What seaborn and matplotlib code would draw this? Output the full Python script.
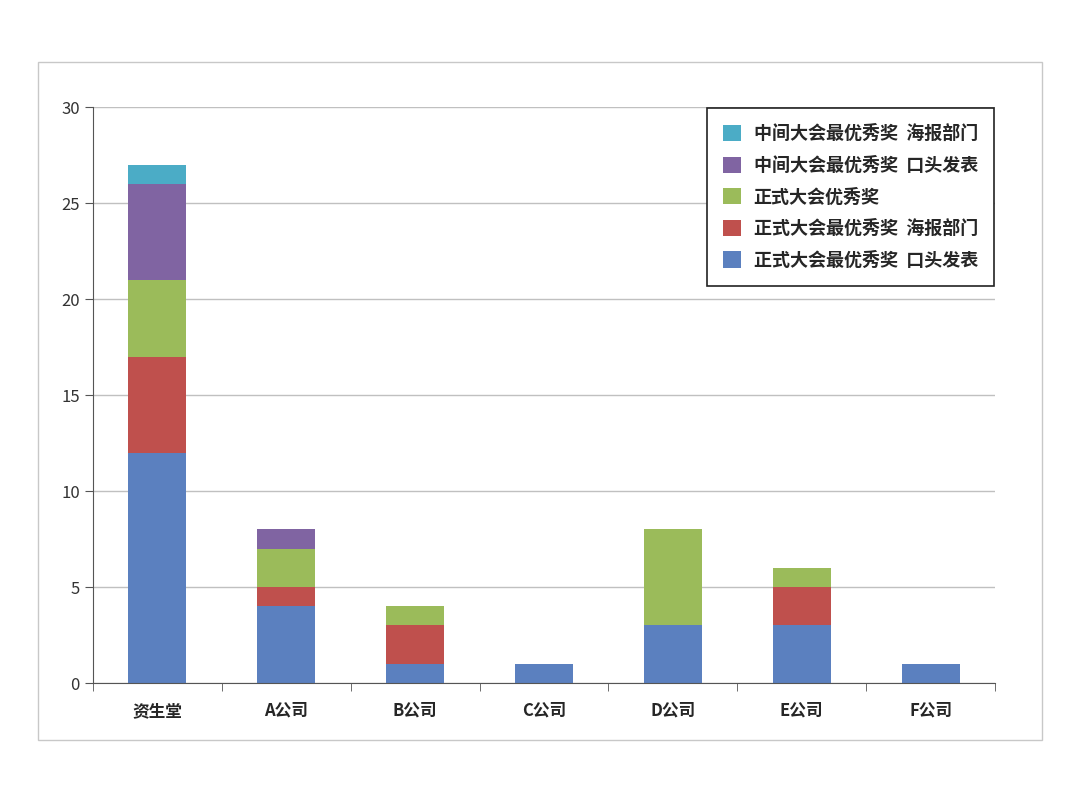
import matplotlib.pyplot as plt
import seaborn as sns
import numpy as np
from matplotlib.patches import Rectangle

companies = ['资生堂', 'A公司', 'B公司', 'C公司', 'D公司', 'E公司', 'F公司']
series_names = ['正式大会最优秀奖 口头发表', '正式大会最优秀奖 海报部门', '正式大会优秀奖',
                '中间大会最优秀奖 口头发表', '中间大会最优秀奖 海报部门']
oral_final = [12, 4, 1, 1, 3, 3, 1]
poster_final = [5, 1, 2, 0, 0, 2, 0]
excellent_final = [4, 2, 1, 0, 5, 1, 0]
oral_mid = [5, 1, 0, 0, 0, 0, 0]
poster_mid = [1, 0, 0, 0, 0, 0, 0]
colors = ['#5b80bf', '#bf504d', '#9bbb5a', '#8064a2', '#4bacc6']

sns.set_style('white')
plt.rcParams['font.family'] = ['Noto Sans CJK SC', 'DejaVu Sans']

fig = plt.figure(figsize=(10.8, 7.91), dpi=100)
fig.patches.append(Rectangle((38 / 1080, 1 - 740 / 791), 1004 / 1080, 678 / 791,
                             transform=fig.transFigure, fill=False, ec='#c8c8c8', lw=1))
ax = fig.add_axes([93 / 1080, 1 - 683 / 791, 902 / 1080, 576 / 791])

bottom = np.zeros(len(companies))
for name, vals, c in zip(series_names, [oral_final, poster_final, excellent_final, oral_mid, poster_mid], colors):
    vals = np.array(vals, dtype=float)
    sns.barplot(x=companies, y=vals, bottom=bottom, color=c, saturation=1, width=0.45, ax=ax,
                edgecolor='none', linewidth=0, label=name)
    bottom += vals

ax.set_ylim(0, 30)
ax.set_xlim(-0.5, 6.5)
ax.set_yticks(range(0, 31, 5))
ax.yaxis.grid(True, color='#c0c0c0', lw=1)
ax.set_axisbelow(True)
for s in ['top', 'right']:
    ax.spines[s].set_visible(False)
for s in ['left', 'bottom']:
    ax.spines[s].set_color('#555555')
ax.tick_params(axis='y', left=True, length=6, color='#555555', labelsize=12, labelcolor='#333333')
ax.set_xticks(range(len(companies)))
ax.set_xticklabels(companies, fontsize=12, fontweight='bold')
ax.tick_params(axis='x', bottom=False, pad=10)
ax.set_xticks(np.arange(-0.5, 7, 1), minor=True)
ax.tick_params(axis='x', which='minor', bottom=True, length=6, color='#555555')

h, l = ax.get_legend_handles_labels()
leg = ax.legend(h[::-1], l[::-1], loc='upper right', bbox_to_anchor=(1.0, 1.0),
                frameon=True, fancybox=False, edgecolor='#222222',
                prop={'weight': 'bold', 'size': 13, 'family': ['Noto Sans CJK SC', 'DejaVu Sans']},
                handlelength=1.0, handleheight=1.0, labelspacing=0.7,
                borderpad=0.9, borderaxespad=0.05, handletextpad=0.7, framealpha=1)
leg.get_frame().set_linewidth(1.2)
for t in leg.get_texts():
    t.set_text(t.get_text().replace(' ', '  '))

fig.savefig('out.png', dpi=100)
